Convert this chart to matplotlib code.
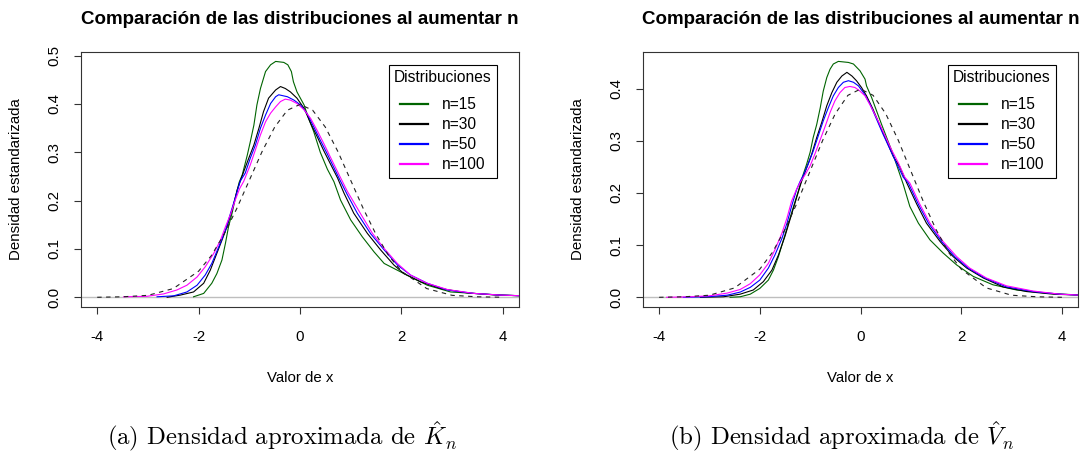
import matplotlib.pyplot as plt
from matplotlib.lines import Line2D

plt.rcParams['font.family'] = ['Liberation Sans', 'DejaVu Sans']
plt.rcParams['mathtext.fontset'] = 'cm'
plt.rcParams['axes.unicode_minus'] = False

# ---- densidad normal estandar (linea discontinua)
normal_x = [-4.0, -3.5, -3.0, -2.5, -2.0, -1.75, -1.5, -1.25, -1.0, -0.75, -0.5, -0.25, 0.0,
            0.25, 0.5, 0.75, 1.0, 1.25, 1.5, 1.75, 2.0, 2.5, 3.0, 3.5, 4.0]
normal_y = [0.000, 0.001, 0.004, 0.018, 0.054, 0.086, 0.130, 0.183, 0.242, 0.301, 0.352, 0.387, 0.399,
            0.387, 0.352, 0.301, 0.242, 0.183, 0.130, 0.086, 0.054, 0.018, 0.004, 0.001, 0.000]

# ---- panel (a): K_n
k15_x = [-2.10, -1.90, -1.74, -1.64, -1.54, -1.47, -1.41, -1.34, -1.27, -1.20, -1.14, -1.04, -0.98, -0.91,
         -0.85, -0.78, -0.68, -0.58, -0.48, -0.32, -0.24, -0.17, -0.13, -0.06, 0.08, 0.17, 0.27, 0.40,
         0.54, 0.67, 0.80, 1.00, 1.23, 1.46, 1.66, 1.92, 2.18, 2.51, 2.97, 3.43, 3.96, 4.40]
k15_y = [0.001, 0.008, 0.029, 0.049, 0.077, 0.112, 0.146, 0.174, 0.208, 0.238, 0.253, 0.294, 0.322, 0.356,
         0.398, 0.432, 0.467, 0.481, 0.488, 0.486, 0.481, 0.467, 0.446, 0.425, 0.398, 0.370, 0.343, 0.300,
         0.265, 0.239, 0.201, 0.160, 0.125, 0.094, 0.070, 0.056, 0.042, 0.025, 0.011, 0.008, 0.0045, 0.003]

k30_x = [-2.62, -2.36, -2.10, -1.90, -1.77, -1.64, -1.54, -1.44, -1.34, -1.24, -1.18, -1.11, -1.01, -0.91,
         -0.81, -0.72, -0.62, -0.48, -0.385, -0.29, -0.19, -0.06, 0.08, 0.21, 0.34, 0.47, 0.60, 0.74,
         0.87, 1.06, 1.33, 1.59, 1.85, 2.05, 2.38, 2.78, 3.30, 3.83, 4.40]
k30_y = [0.000, 0.0045, 0.011, 0.029, 0.056, 0.091, 0.118, 0.146, 0.180, 0.222, 0.240, 0.260, 0.288, 0.315,
         0.350, 0.384, 0.412, 0.429, 0.436, 0.432, 0.425, 0.412, 0.391, 0.360, 0.332, 0.303, 0.276, 0.247,
         0.215, 0.174, 0.132, 0.098, 0.067, 0.049, 0.032, 0.018, 0.009, 0.005, 0.003]

k50_x = [-2.82, -2.49, -2.23, -2.03, -1.87, -1.74, -1.60, -1.47, -1.37, -1.27, -1.18, -1.08, -0.98, -0.88,
         -0.78, -0.68, -0.58, -0.48, -0.42, -0.25, -0.12, 0.01, 0.14, 0.27, 0.40, 0.54, 0.67, 0.80,
         0.93, 1.13, 1.39, 1.66, 1.92, 2.18, 2.51, 2.91, 3.43, 3.96, 4.40]
k50_y = [0.001, 0.003, 0.011, 0.025, 0.046, 0.070, 0.105, 0.139, 0.174, 0.208, 0.240, 0.257, 0.288, 0.315,
         0.350, 0.377, 0.401, 0.415, 0.419, 0.415, 0.408, 0.398, 0.380, 0.353, 0.325, 0.296, 0.268, 0.240,
         0.213, 0.174, 0.132, 0.098, 0.067, 0.046, 0.029, 0.015, 0.008, 0.0045, 0.003]

k100_x = [-3.48, -3.02, -2.69, -2.43, -2.23, -2.03, -1.87, -1.70, -1.57, -1.47, -1.37, -1.27, -1.19, -1.11,
          -0.98, -0.88, -0.78, -0.68, -0.58, -0.48, -0.385, -0.29, -0.19, -0.06, 0.08, 0.21, 0.34, 0.47,
          0.60, 0.74, 0.93, 1.20, 1.43, 1.66, 1.92, 2.18, 2.51, 2.91, 3.43, 3.96, 4.40]
k100_y = [0.001, 0.002, 0.007, 0.015, 0.025, 0.042, 0.063, 0.091, 0.118, 0.146, 0.172, 0.203, 0.225, 0.240,
          0.274, 0.305, 0.336, 0.363, 0.381, 0.394, 0.405, 0.410, 0.408, 0.401, 0.388, 0.370, 0.345, 0.318,
          0.290, 0.260, 0.220, 0.172, 0.132, 0.101, 0.070, 0.046, 0.029, 0.016, 0.008, 0.0045, 0.003]

# ---- panel (b): V_n
v15_x = [-2.59, -2.39, -2.19, -2.00, -1.83, -1.73, -1.63, -1.53, -1.43, -1.33, -1.23, -1.15, -1.07, -1.00,
         -0.94, -0.87, -0.80, -0.74, -0.67, -0.605, -0.54, -0.44, -0.24, -0.14, -0.01, 0.09, 0.12, 0.22,
         0.32, 0.42, 0.52, 0.62, 0.72, 0.85, 0.98, 1.15, 1.38, 1.64, 1.91, 2.24, 2.63, 3.10, 3.69, 4.40]
v15_y = [0.000, 0.001, 0.006, 0.017, 0.033, 0.052, 0.078, 0.110, 0.142, 0.174, 0.205, 0.232, 0.255, 0.278,
         0.306, 0.331, 0.363, 0.395, 0.421, 0.437, 0.447, 0.452, 0.450, 0.447, 0.434, 0.418, 0.405, 0.383,
         0.357, 0.331, 0.306, 0.281, 0.253, 0.216, 0.174, 0.142, 0.110, 0.085, 0.062, 0.040, 0.024, 0.014,
         0.008, 0.004]

v30_x = [-3.18, -2.72, -2.39, -2.13, -1.93, -1.76, -1.63, -1.50, -1.40, -1.30, -1.20, -1.17, -1.07, -0.97,
         -0.87, -0.77, -0.67, -0.57, -0.47, -0.37, -0.27, -0.17, -0.08, 0.02, 0.12, 0.25, 0.39, 0.52,
         0.65, 0.78, 0.92, 1.12, 1.31, 1.58, 1.84, 2.11, 2.44, 2.83, 3.30, 3.83, 4.40]
v30_y = [0.000, 0.001, 0.006, 0.014, 0.030, 0.052, 0.081, 0.117, 0.149, 0.181, 0.213, 0.222, 0.248, 0.274,
         0.306, 0.335, 0.367, 0.392, 0.412, 0.424, 0.431, 0.424, 0.415, 0.402, 0.386, 0.360, 0.328, 0.299,
         0.270, 0.250, 0.219, 0.178, 0.142, 0.107, 0.078, 0.056, 0.037, 0.020, 0.011, 0.006, 0.004]

v50_x = [-3.52, -3.05, -2.65, -2.39, -2.19, -2.00, -1.83, -1.70, -1.56, -1.46, -1.37, -1.27, -1.20, -1.13,
         -1.04, -0.94, -0.84, -0.74, -0.64, -0.54, -0.44, -0.34, -0.24, -0.14, -0.04, 0.06, 0.19, 0.32,
         0.45, 0.59, 0.72, 0.85, 0.95, 1.15, 1.35, 1.61, 1.87, 2.14, 2.47, 2.90, 3.43, 3.96, 4.40]
v50_y = [0.000, 0.001, 0.004, 0.010, 0.019, 0.033, 0.056, 0.081, 0.113, 0.142, 0.174, 0.206, 0.222, 0.235,
         0.255, 0.280, 0.309, 0.338, 0.363, 0.386, 0.402, 0.412, 0.415, 0.412, 0.405, 0.392, 0.370, 0.341,
         0.312, 0.283, 0.256, 0.230, 0.219, 0.178, 0.142, 0.107, 0.078, 0.056, 0.037, 0.020, 0.011, 0.006,
         0.004]

v100_x = [-3.85, -3.38, -2.99, -2.65, -2.39, -2.19, -2.00, -1.83, -1.70, -1.56, -1.46, -1.37, -1.27, -1.20,
          -1.10, -1.00, -0.90, -0.80, -0.70, -0.605, -0.51, -0.41, -0.31, -0.21, -0.11, -0.01, 0.09, 0.22,
          0.35, 0.49, 0.62, 0.75, 0.88, 0.98, 1.18, 1.38, 1.64, 1.91, 2.17, 2.50, 2.90, 3.43, 3.96, 4.40]
v100_y = [0.000, 0.001, 0.003, 0.008, 0.015, 0.026, 0.043, 0.065, 0.091, 0.123, 0.152, 0.184, 0.207, 0.220,
          0.235, 0.252, 0.276, 0.302, 0.328, 0.354, 0.376, 0.392, 0.402, 0.404, 0.402, 0.395, 0.386, 0.363,
          0.338, 0.309, 0.282, 0.258, 0.230, 0.219, 0.178, 0.142, 0.107, 0.078, 0.056, 0.037, 0.022, 0.012,
          0.006, 0.004]

etiquetas = ['n=15', 'n=30', 'n=50', 'n=100']
colores = ['darkgreen', 'black', 'blue', 'magenta']
xticks = [-4, -2, 0, 2, 4]
titulo = 'Comparación de las distribuciones al aumentar n'
ylab = 'Densidad estandarizada'
xlab = 'Valor de x'

W, H = 1083, 454
fig = plt.figure(figsize=(W / 100, H / 100), dpi=100)


def panel(left_px, width_px, curvas, yticks, ylim, caption, cap_x):
    ax = fig.add_axes([left_px / W, 1 - 306.7 / H, width_px / W, 254.7 / H])
    ax.axhline(0, color='#bebebe', lw=1.0, zorder=1)
    for (x, y), c in zip(curvas, colores):
        ax.plot(x, y, color=c, lw=0.8, zorder=2)
    ax.plot(normal_x, normal_y, color='#222222', lw=0.8, dashes=(4, 4), zorder=3)

    ax.set_xlim(-4.32, 4.32)
    ax.set_ylim(*ylim)
    ax.set_xticks(xticks)
    ax.set_xticklabels([str(t) for t in xticks])
    ax.set_yticks(yticks)
    ax.set_yticklabels([f'{t:.1f}' for t in yticks], rotation=90, va='center')
    ax.tick_params(axis='both', labelsize=10.8, length=5, width=0.8, color='#333333')
    ax.tick_params(axis='x', pad=12)
    ax.tick_params(axis='y', pad=9)
    for s in ax.spines.values():
        s.set_color('#333333')
        s.set_linewidth(0.8)

    ax.set_xlabel(xlab, fontsize=10.8)
    ax.xaxis.set_label_coords(0.5, (306.7 - 377.8) / 254.7)
    ax.xaxis.label.set_va('center')
    ax.set_ylabel(ylab, fontsize=10.8)
    ax.yaxis.set_label_coords((16 - 81) / 438, 0.5)
    ax.yaxis.label.set_va('center')

    handles = [Line2D([], [], color=c, lw=1.6) for c in colores]
    leg = ax.legend(handles, etiquetas, title='Distribuciones', loc='upper right',
                    bbox_to_anchor=(0.95, 0.949), fontsize=11.2, title_fontsize=11.2,
                    fancybox=False, edgecolor='black', framealpha=1, borderpad=0.35,
                    labelspacing=0.32, handlelength=1.8, handletextpad=0.9,
                    borderaxespad=0)
    leg.get_frame().set_linewidth(0.8)
    leg._legend_box.sep = 8.6

    xc = (left_px + width_px / 2) / W
    fig.text(xc, 1 - 24 / H, titulo, ha='center', va='baseline', fontsize=13.5, fontweight='bold')
    fig.text(cap_x / W, 1 - 445 / H, caption, ha='center', va='baseline',
             fontsize=17.8, family='cmr10')
    return ax


panel(81, 438, [(k15_x, k15_y), (k30_x, k30_y), (k50_x, k50_y), (k100_x, k100_y)],
      [0.0, 0.1, 0.2, 0.3, 0.4, 0.5], (-0.0195, 0.5075),
      r'(a) Densidad aproximada de $\hat{K}_n$', 282)
panel(643, 435, [(v15_x, v15_y), (v30_x, v30_y), (v50_x, v50_y), (v100_x, v100_y)],
      [0.0, 0.1, 0.2, 0.3, 0.4], (-0.018, 0.470),
      r'(b) Densidad aproximada de $\hat{V}_n$', 841)

fig.savefig('out.png', dpi=100)
